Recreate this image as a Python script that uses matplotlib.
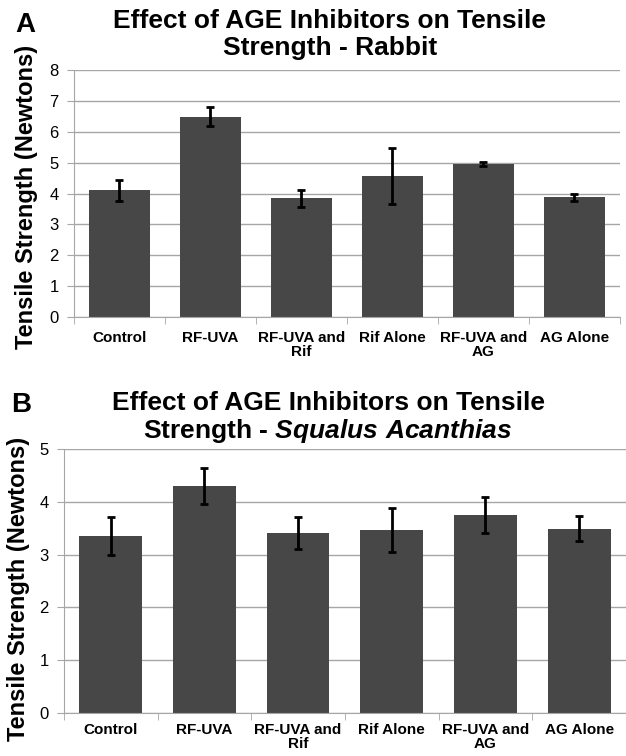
import matplotlib
matplotlib.use("Agg")
import matplotlib.pyplot as plt
import numpy as np

plt.rcParams['font.family'] = ['Liberation Sans', 'DejaVu Sans']
plt.rcParams['mathtext.fontset'] = 'custom'
plt.rcParams['mathtext.it'] = 'Liberation Sans:italic:bold'
plt.rcParams['mathtext.rm'] = 'Liberation Sans:bold'

# Kategoriler ve degerler
groups = ['Control', 'RF-UVA', 'RF-UVA and\nRif', 'Rif Alone', 'RF-UVA and\nAG', 'AG Alone']
rabbit_mean = [4.10, 6.50, 3.85, 4.57, 4.95, 3.88]
rabbit_err = [0.33, 0.32, 0.28, 0.92, 0.06, 0.12]
shark_mean = [3.35, 4.30, 3.41, 3.46, 3.75, 3.49]
shark_err = [0.36, 0.35, 0.31, 0.42, 0.34, 0.24]

bar_color = '#474747'
grid_color = '#a6a6a6'

fig = plt.figure(figsize=(6.26, 7.56), dpi=100)
axA = fig.add_axes([0.118, 0.581, 0.872, 0.326])
axB = fig.add_axes([0.102, 0.057, 0.898, 0.349])


def draw_panel(ax, means, errs, ymax, pad):
    x = np.arange(len(groups))
    ax.set_axisbelow(True)
    ax.bar(x, means, width=0.67, color=bar_color, zorder=2)
    ax.errorbar(x, means, yerr=errs, fmt='none', ecolor='black',
                elinewidth=2, capsize=3, capthick=2, zorder=3)
    ax.set_xlim(-0.5, len(groups) - 0.5)
    ax.set_ylim(0, ymax)
    ax.set_yticks(range(0, ymax + 1))
    ax.yaxis.grid(True, color=grid_color, linewidth=1)
    for s in ['top', 'right']:
        ax.spines[s].set_visible(False)
    for s in ['left', 'bottom']:
        ax.spines[s].set_color(grid_color)
    ax.set_xticks(x)
    ax.set_xticklabels(groups, fontsize=11, fontweight='bold', linespacing=1.0)
    ax.set_xticks(np.arange(-0.5, len(groups)), minor=True)
    ax.tick_params(axis='x', which='major', length=0, pad=pad)
    ax.tick_params(axis='x', which='minor', length=5, color=grid_color)
    ax.tick_params(axis='y', length=5, color=grid_color, labelsize=12, pad=6)
    ax.set_ylabel('Tensile Strength (Newtons)', fontsize=17, fontweight='bold')


draw_panel(axA, rabbit_mean, rabbit_err, 8, 10)
draw_panel(axB, shark_mean, shark_err, 5, 7)
axA.yaxis.set_label_coords(-0.066, 0.486)
axB.yaxis.set_label_coords(-0.060, 0.47)

fig.text(0.527, 0.954, 'Effect of AGE Inhibitors on Tensile\nStrength - Rabbit',
         ha='center', va='center', fontsize=19, fontweight='bold', linespacing=1.15)
fig.text(0.524, 0.447, 'Effect of AGE Inhibitors on Tensile\nStrength - $\\it{Squalus\\ Acanthias}$',
         ha='center', va='center', fontsize=19, fontweight='bold', linespacing=1.1)
fig.text(0.024, 0.967, 'A', fontsize=20, fontweight='bold', va='center')
fig.text(0.018, 0.464, 'B', fontsize=20, fontweight='bold', va='center')

fig.savefig('out.png', dpi=100)
